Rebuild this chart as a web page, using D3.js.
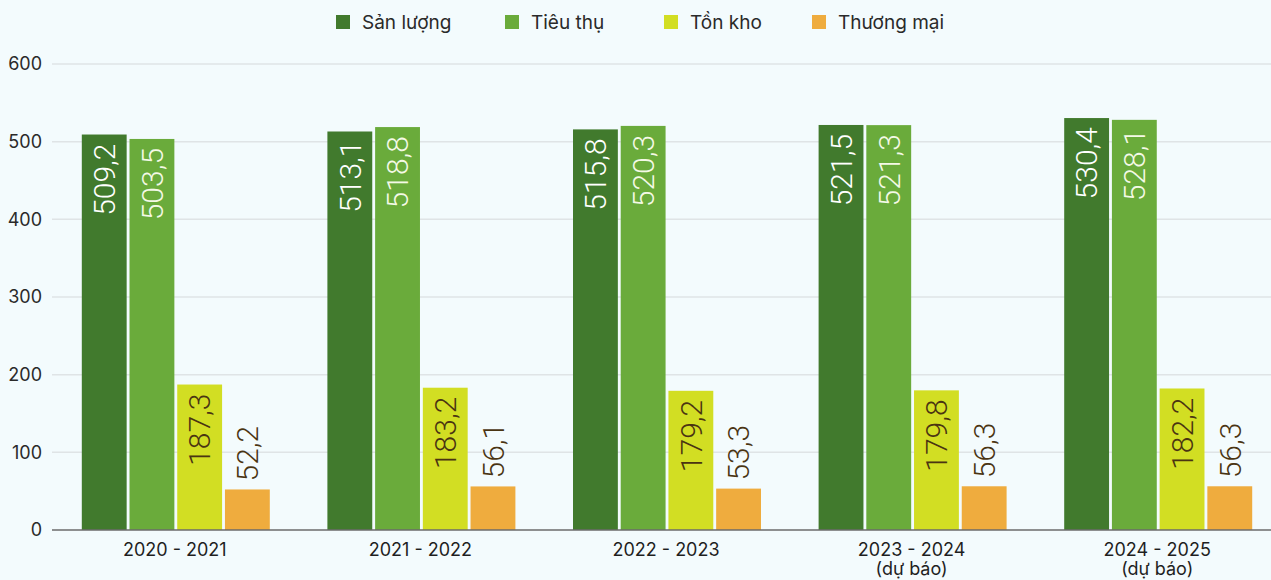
<!DOCTYPE html>
<html><head><meta charset="utf-8">
<script src="https://cdn.jsdelivr.net/npm/d3@7"></script>
<style>
html,body{margin:0;padding:0;background:#f3fbfd;}
svg{display:block;}
</style></head>
<body><svg id="c" width="1271" height="580"></svg>
<script>
const categories = ["2020 - 2021","2021 - 2022","2022 - 2023","2023 - 2024|(dự báo)","2024 - 2025|(dự báo)"];
const seriesNames = ["Sản lượng","Tiêu thụ","Tồn kho","Thương mại"];
const sanLuong = [509.2,513.1,515.8,521.5,530.4];
const tieuThu = [503.5,518.8,520.3,521.3,528.1];
const tonKho = [187.3,183.2,179.2,179.8,182.2];
const thuongMai = [52.2,56.1,53.3,56.3,56.3];
const yTicks = [0,100,200,300,400,500,600];

const seriesValues = [sanLuong,tieuThu,tonKho,thuongMai];
const colors = ["#417a2d","#6aab3b","#d2de23","#efac3e"];
const labelColors = ["#ffffff","#f4f9e6","#4a3412","#4a3412"];

const svg = d3.select("#c");
const x0 = d3.scaleBand().domain(categories).range([52,1280]).paddingInner(0).paddingOuter(0);
const x1 = d3.scaleBand().domain(seriesNames).range([x0.bandwidth()/2-93, x0.bandwidth()/2+95]).paddingInner(0.06);
const y = d3.scaleLinear().domain([0,600]).range([530,64]);

// grid
svg.append("g").selectAll("line").data(yTicks.filter(d=>d>0)).join("line")
  .attr("x1",52).attr("x2",1271).attr("y1",d=>y(d)).attr("y2",d=>y(d))
  .attr("stroke","#dfe4e6").attr("stroke-width",1.5);

// y axis labels
const yAxis = d3.axisLeft(y).tickValues(yTicks).tickSize(0).tickPadding(0).tickFormat(d3.format("d"));
const ya = svg.append("g").attr("transform","translate(42,0)").call(yAxis);
ya.select(".domain").remove();
ya.selectAll("text").attr("font-family","Inter, 'Noto Sans', sans-serif").attr("font-size",18).attr("fill","#2a2a2a").attr("text-anchor","end");

// bars
const groups = svg.append("g").selectAll("g").data(categories).join("g")
  .attr("transform",d=>`translate(${x0(d)},0)`);
groups.each(function(cat,ci){
  const g = d3.select(this);
  seriesNames.forEach((s,si)=>{
    const v = seriesValues[si][ci];
    const bx = x1(s), bw = x1.bandwidth();
    g.append("rect").attr("x",bx).attr("y",y(v)).attr("width",bw).attr("height",y(0)-y(v)).attr("fill",colors[si]);
    const txt = String(v.toFixed(1)).replace(".",",");
    const inside = si < 3;
    const ty = inside ? y(v)+9 : y(v)-8;
    g.append("text")
      .attr("transform",`translate(${bx+bw/2},${ty}) rotate(-90)`)
      .attr("text-anchor", inside ? "end" : "start")
      .attr("dy","0.36em")
      .attr("font-family","Roboto, 'Liberation Sans', sans-serif")
      .attr("font-weight",300)
      .attr("font-size",30)
      .attr("fill",labelColors[si])
      .text(txt);
  });
});

// x axis
svg.append("line").attr("x1",52).attr("x2",1271).attr("y1",y(0)).attr("y2",y(0)).attr("stroke","#6b6b6b").attr("stroke-width",1.5);
const xl = svg.append("g").selectAll("text").data(categories).join("text")
  .attr("x",d=>x0(d)+x0.bandwidth()/2).attr("y",556)
  .attr("text-anchor","middle").attr("font-family","Inter, 'Noto Sans', sans-serif").attr("font-size",18).attr("fill","#1f1f1f");
xl.each(function(d){
  const parts = d.split("|");
  const t = d3.select(this);
  parts.forEach((p,i)=>{
    t.append("tspan").attr("x",x0(d)+x0.bandwidth()/2).attr("dy",i===0?0:19).text(p);
  });
});

// legend
const legX = [336,505,664,812];
const leg = svg.append("g").selectAll("g").data(seriesNames).join("g")
  .attr("transform",(d,i)=>`translate(${legX[i]},15)`);
leg.append("rect").attr("width",14).attr("height",14).attr("fill",(d,i)=>colors[i]);
leg.append("text").attr("x",26).attr("y",7).attr("dy","0.36em")
  .attr("font-family","Inter, 'Noto Sans', sans-serif").attr("font-size",19).attr("fill","#2a2a2a").text(d=>d);
</script>
</body></html>
